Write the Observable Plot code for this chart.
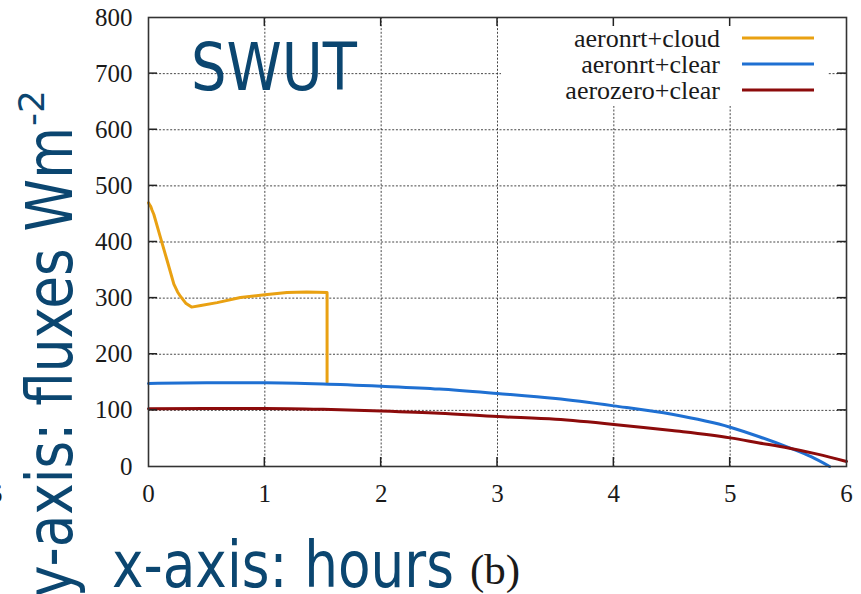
<!DOCTYPE html>
<html>
<head>
<meta charset="utf-8">
<script src="https://cdn.jsdelivr.net/npm/d3@7"></script>
<script src="https://cdn.jsdelivr.net/npm/@observablehq/plot@0.6"></script>
<style>
  html, body { margin: 0; padding: 0; background: #fff; }
  #chart svg { display: block; }
</style>
</head>
<body>
<div id="chart"></div>
<script>
// Upward shortwave flux at the top (SWUT), Wm-2, against simulated hours.
const hoursCloud = [0, 0.01, 0.02, 0.03, 0.046, 0.1, 0.16, 0.218, 0.25, 0.275, 0.32, 0.37, 0.45, 0.59, 0.79, 1.0, 1.19, 1.36, 1.535, 1.535];
const fluxCloud  = [470, 466, 463, 457, 449, 410, 367, 325, 311, 303, 291, 284, 287, 292, 301, 306, 310, 311, 310, 150];

const hoursClear = [0, 0.5, 1.0, 1.5, 2.0, 2.5, 3.0, 3.5, 4.0, 4.5, 5.0, 5.25, 5.5, 5.7, 5.855];
const fluxClear  = [148, 149, 149, 147, 143, 138, 130, 121, 108, 93, 70, 53, 34, 17, 0];

const hoursZero = [0, 0.5, 1.0, 1.5, 2.0, 2.5, 3.0, 3.5, 4.0, 4.5, 5.0, 5.25, 5.5, 5.75, 6.0];
const fluxZero  = [103, 103.5, 103.5, 102, 99, 95, 89, 84, 75, 64, 51, 42, 33, 22, 9];

const seriesNames  = ["aeronrt+cloud", "aeronrt+clear", "aerozero+clear"];
const seriesColors = ["#e9a112", "#1f70d2", "#8c0b0b"];

const xTicks = [0, 1, 2, 3, 4, 5, 6];
const yTicks = [0, 100, 200, 300, 400, 500, 600, 700, 800];

const panelTitle = "SWUT";
const yTitle = "y-axis: fluxes Wm";
const yTitleSup = "-2";
const xTitle = "x-axis: hours";
const panelTag = "(b)";

const toRows = (hs, fs, name) => hs.map((h, i) => ({hour: h, flux: fs[i], series: name}));
const cloudRows = toRows(hoursCloud, fluxCloud, seriesNames[0]);
const clearRows = [
  ...toRows(hoursClear, fluxClear, seriesNames[1]),
  ...toRows(hoursZero, fluxZero, seriesNames[2])
];

const ink = "#0b4670";
const sans = "DejaVu Sans, sans-serif";
const serif = "Liberation Serif, Times New Roman, serif";

// gnuplot-style inward tick marks, mirrored on all four sides
function inwardTicks(index, scales, values, dims) {
  const {x, y} = scales;
  const L = dims.marginLeft, R = dims.width - dims.marginRight;
  const T = dims.marginTop, B = dims.height - dims.marginBottom;
  const len = 9;
  const g = d3.create("svg:g").attr("stroke", "#222").attr("stroke-width", 1.5);
  for (const v of xTicks.slice(1, -1)) {
    const px = x(v);
    g.append("line").attr("x1", px).attr("x2", px).attr("y1", B).attr("y2", B - len);
    g.append("line").attr("x1", px).attr("x2", px).attr("y1", T).attr("y2", T + len);
  }
  for (const v of yTicks.slice(1, -1)) {
    const py = y(v);
    g.append("line").attr("x1", L).attr("x2", L + len).attr("y1", py).attr("y2", py);
    g.append("line").attr("x1", R).attr("x2", R - len).attr("y1", py).attr("y2", py);
  }
  return g.node();
}

// opaque key box in the upper right corner
function keyBox(index, scales, values, dims) {
  const R = dims.width - dims.marginRight, T = dims.marginTop;
  const g = d3.create("svg:g");
  g.append("rect")
    .attr("x", R - 345).attr("y", T + 1)
    .attr("width", 327).attr("height", 88)
    .attr("fill", "#fff");
  seriesNames.forEach((name, i) => {
    const base = T + 30 + i * 26;
    g.append("text")
      .attr("x", R - 126).attr("y", base)
      .attr("text-anchor", "end")
      .attr("font-family", serif).attr("font-size", 26)
      .attr("fill", "#1a1a1a")
      .text(name);
    g.append("line")
      .attr("x1", R - 104).attr("x2", R - 32)
      .attr("y1", base - 9).attr("y2", base - 9)
      .attr("stroke", seriesColors[i]).attr("stroke-width", 3);
  });
  return g.node();
}

// panel title, axis titles and panel tag
function titles(index, scales, values, dims) {
  const L = dims.marginLeft, T = dims.marginTop, B = dims.height - dims.marginBottom;
  const g = d3.create("svg:g")
    .attr("fill", ink)
    .attr("font-family", sans)
    .attr("text-anchor", "start");
  g.append("text")
    .attr("x", L + 43).attr("y", T + 73)
    .attr("font-size", 66)
    .attr("textLength", 166).attr("lengthAdjust", "spacingAndGlyphs")
    .text(panelTitle);
  g.append("text")
    .attr("transform", `translate(${L - 76},${B + 131}) rotate(-90)`)
    .attr("font-size", 64)
    .attr("textLength", 470).attr("lengthAdjust", "spacingAndGlyphs")
    .text(yTitle);
  g.append("text")
    .attr("transform", `translate(${L - 104},${T + 109}) rotate(-90)`)
    .attr("font-size", 36)
    .attr("textLength", 36).attr("lengthAdjust", "spacingAndGlyphs")
    .text(yTitleSup);
  g.append("text")
    .attr("x", L - 36).attr("y", B + 121)
    .attr("font-size", 64)
    .attr("textLength", 342).attr("lengthAdjust", "spacingAndGlyphs")
    .text(xTitle);
  g.append("text")
    .attr("x", L + 322).attr("y", B + 118)
    .attr("font-family", serif).attr("font-size", 43)
    .attr("fill", "#1a1a1a")
    .text(panelTag);
  // last tick label of the neighbouring panel, cut by the page edge
  g.append("text")
    .attr("x", -4).attr("y", B + 36)
    .attr("text-anchor", "middle")
    .attr("font-family", serif).attr("font-size", 25)
    .attr("fill", "#1a1a1a")
    .text(xTicks[xTicks.length - 1]);
  return g.node();
}

const gridStyle = {stroke: "#333", strokeOpacity: 0.9, strokeWidth: 1, strokeDasharray: "2,1.7"};

const chart = Plot.plot({
  width: 861,
  height: 594,
  marginLeft: 148,
  marginRight: 15,
  marginTop: 17,
  marginBottom: 128,
  style: {fontFamily: serif, fontSize: "25px", color: "#1a1a1a", background: "#fff"},
  x: {domain: [0, 6]},
  y: {domain: [0, 800]},
  color: {domain: seriesNames, range: seriesColors},
  marks: [
    Plot.gridX({...gridStyle, ticks: xTicks.slice(1, -1)}),
    Plot.gridY({...gridStyle, ticks: yTicks.slice(1, -1)}),
    keyBox,
    Plot.line(cloudRows, {x: "hour", y: "flux", stroke: "series", strokeWidth: 3, curve: "linear", strokeLinejoin: "round"}),
    Plot.line(clearRows, {x: "hour", y: "flux", stroke: "series", z: "series", strokeWidth: 3, curve: "monotone-x"}),
    Plot.axisX({ticks: xTicks, tickSize: 0, tickPadding: 18, label: null, tickFormat: d => String(d)}),
    Plot.axisY({ticks: yTicks, tickSize: 0, tickPadding: 16, label: null, tickFormat: d => String(d)}),
    inwardTicks,
    Plot.frame({stroke: "#333", strokeWidth: 1.6}),
    titles
  ]
});

document.getElementById("chart").appendChild(chart);
</script>
</body>
</html>
